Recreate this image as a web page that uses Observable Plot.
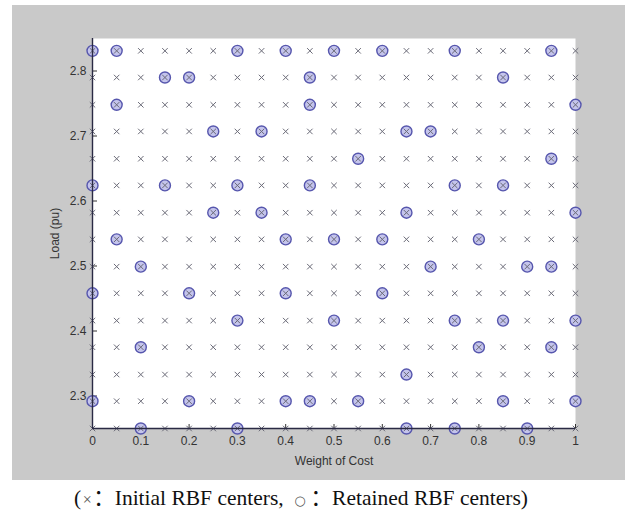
<!DOCTYPE html>
<html>
<head>
<meta charset="utf-8">
<script src="https://cdn.jsdelivr.net/npm/d3@7"></script>
<script src="https://cdn.jsdelivr.net/npm/@observablehq/plot@0.6"></script>
<style>
  html, body { margin: 0; padding: 0; background: #ffffff; }
  #wrap { position: relative; width: 632px; height: 512px; overflow: hidden; }
  #chart { position: absolute; left: 12px; top: 5px; }
  #caption { position: absolute; left: 0; top: 484px; width: 602px; text-align: center; white-space: nowrap;
    font-family: "Liberation Serif", "Times New Roman", serif; font-size: 21.5px; line-height: 24px; color: #111; }
  #caption .x { color: #555; font-size: 16px; display: inline-block; width: 12px; text-align: center; line-height: 24px; }
  #caption .fw { font-family: "Noto Sans CJK SC", sans-serif; display: inline-block; width: 21.5px; text-align: center; line-height: 24px; }
  #caption .o { color: #555; font-size: 13px; display: inline-block; width: 21.5px; text-align: center; line-height: 24px; font-family: "DejaVu Sans", sans-serif; }
</style>
</head>
<body>
<div id="wrap">
  <div id="chart"></div>
  <div id="caption">(<span class="x">×</span><span class="fw">：</span>Initial RBF centers, <span class="o">○</span><span class="fw">：</span>Retained RBF centers)</div>
</div>
<script>
// Weight of Cost grid (x)
const weights = [0, 0.05, 0.1, 0.15, 0.2, 0.25, 0.3, 0.35, 0.4, 0.45, 0.5,
                 0.55, 0.6, 0.65, 0.7, 0.75, 0.8, 0.85, 0.9, 0.95, 1];
// Load (pu) grid (y)
const loads = [2.25, 2.292, 2.333, 2.375, 2.416, 2.458, 2.499, 2.541,
               2.582, 2.624, 2.665, 2.707, 2.748, 2.790, 2.831];
// Retained RBF centers: weights kept at each load level (same order as loads)
const retainedWeights = [
  [0.1, 0.3, 0.65, 0.75, 0.9],                 // 2.25
  [0, 0.2, 0.4, 0.45, 0.55, 0.85, 1],          // 2.292
  [0.65],                                      // 2.333
  [0.1, 0.8, 0.95],                            // 2.375
  [0.3, 0.5, 0.75, 0.85, 1],                   // 2.416
  [0, 0.2, 0.4, 0.6],                          // 2.458
  [0.1, 0.7, 0.9, 0.95],                       // 2.499
  [0.05, 0.4, 0.5, 0.6, 0.8],                  // 2.541
  [0.25, 0.35, 0.65, 1],                       // 2.582
  [0, 0.15, 0.3, 0.45, 0.75, 0.85],            // 2.624
  [0.55, 0.95],                                // 2.665
  [0.25, 0.35, 0.65, 0.7],                     // 2.707
  [0.05, 0.45, 1],                             // 2.748
  [0.15, 0.2, 0.45, 0.85],                     // 2.790
  [0, 0.05, 0.3, 0.4, 0.5, 0.6, 0.75, 0.95]    // 2.831
];
const xTicks = [0, 0.1, 0.2, 0.3, 0.4, 0.5, 0.6, 0.7, 0.8, 0.9, 1];
const yTicks = [2.3, 2.4, 2.5, 2.6, 2.7, 2.8];

const initial = loads.flatMap(l => weights.map(w => ({w, l})));
const retained = loads.flatMap((l, i) => retainedWeights[i].map(w => ({w, l})));

const chart = Plot.plot({
  width: 613,
  height: 475,
  marginLeft: 80,
  marginRight: 50,
  marginTop: 33,
  marginBottom: 52,
  style: {background: "#c9c9c9", fontFamily: "Liberation Sans, Arial, sans-serif", fontSize: "12px", color: "#333"},
  x: {domain: [0, 1]},
  y: {domain: [2.25, 2.85]},
  marks: [
    Plot.frame({fill: "white", stroke: "none"}),
    Plot.axisX({ticks: xTicks, tickFormat: d3.format("~g"), tickSize: -4, tickPadding: 12,
      label: "Weight of Cost", labelAnchor: "center", labelArrow: false, labelOffset: 36, color: "#333"}),
    Plot.axisY({ticks: yTicks, tickFormat: d3.format(".1f"), tickSize: -5, tickPadding: 11,
      label: "Load (pu)", labelAnchor: "center", labelArrow: false, labelOffset: 42, color: "#333"}),
    Plot.dot(retained, {x: "w", y: "l", r: 5.5, stroke: "#5656ad", strokeWidth: 1.4, fill: "#c4c4ec"}),
    Plot.dot(initial, {x: "w", y: "l", symbol: "times", r: 2.6, stroke: "#6b6b78", strokeWidth: 1}),
    Plot.ruleX([0], {stroke: "#2a2a44", strokeWidth: 1.4}),
    Plot.ruleY([2.25], {stroke: "#2a2a44", strokeWidth: 1.4})
  ]
});
document.getElementById("chart").appendChild(chart);
</script>
</body>
</html>
